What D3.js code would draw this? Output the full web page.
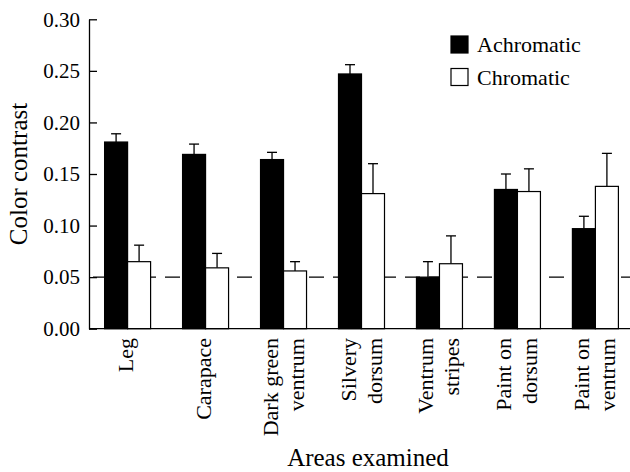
<!DOCTYPE html>
<html>
<head>
<meta charset="utf-8">
<script src="https://cdn.jsdelivr.net/npm/d3@7"></script>
<style>
  body { margin: 0; background: #fff; }
  svg text { font-family: "Liberation Serif", "Times New Roman", serif; fill: #000; }
</style>
</head>
<body>
<div id="chart"></div>
<script>
const categories = [["Leg"], ["Carapace"], ["Dark green", "ventrum"], ["Silvery", "dorsum"],
                    ["Ventrum", "stripes"], ["Paint on", "dorsum"], ["Paint on", "ventrum"]];
const seriesNames = ["Achromatic", "Chromatic"];
const achromatic = [0.181, 0.169, 0.164, 0.247, 0.050, 0.135, 0.097];
const achromaticErr = [0.008, 0.010, 0.007, 0.009, 0.015, 0.015, 0.012];
const chromatic = [0.065, 0.059, 0.056, 0.131, 0.063, 0.133, 0.138];
const chromaticErr = [0.016, 0.014, 0.009, 0.029, 0.027, 0.022, 0.032];
const yTicks = [0, 0.05, 0.10, 0.15, 0.20, 0.25, 0.30];
const threshold = 0.05;

const width = 630, height = 472;
const plotLeft = 89, plotTop = 19.3, plotBottom = 328.7;
const serif = '"Liberation Serif", "Times New Roman", serif';

const svg = d3.select('#chart').append('svg')
    .attr('width', width)
    .attr('height', height);

const keys = categories.map((c, i) => i);
const x = d3.scaleBand()
    .domain(keys)
    .range([plotLeft, 634])
    .paddingInner(0.41)
    .paddingOuter(0.2);

const xSub = d3.scaleBand()
    .domain(seriesNames)
    .range([0, x.bandwidth()]);

const y = d3.scaleLinear()
    .domain([0, 0.30])
    .range([plotBottom, plotTop]);

// threshold line
svg.append('line')
    .attr('x1', plotLeft).attr('x2', width)
    .attr('y1', y(threshold)).attr('y2', y(threshold))
    .attr('stroke', '#000')
    .attr('stroke-width', 1.3)
    .attr('stroke-dasharray', '15,9')
    .attr('stroke-dashoffset', 20);

const rows = [];
keys.forEach(i => {
    rows.push({ cat: i, s: 'Achromatic', v: achromatic[i], e: achromaticErr[i] });
    rows.push({ cat: i, s: 'Chromatic', v: chromatic[i], e: chromaticErr[i] });
});

// error bars (upward only)
const err = svg.append('g').attr('stroke', '#000').attr('stroke-width', 1.3);
rows.forEach(d => {
    const cx = x(d.cat) + xSub(d.s) + xSub.bandwidth() / 2;
    err.append('line')
        .attr('x1', cx).attr('x2', cx)
        .attr('y1', y(d.v)).attr('y2', y(d.v + d.e));
    err.append('line')
        .attr('x1', cx - 5).attr('x2', cx + 5)
        .attr('y1', y(d.v + d.e)).attr('y2', y(d.v + d.e));
});

svg.selectAll('.bar')
    .data(rows)
    .enter()
    .append('rect')
    .attr('class', 'bar')
    .attr('x', d => x(d.cat) + xSub(d.s))
    .attr('y', d => y(d.v))
    .attr('width', xSub.bandwidth())
    .attr('height', d => y(0) - y(d.v))
    .attr('fill', d => d.s === 'Achromatic' ? '#000' : '#fff')
    .attr('stroke', '#000')
    .attr('stroke-width', 1.2);

// y axis
const yAxis = d3.axisLeft(y)
    .tickValues(yTicks)
    .tickFormat(d3.format('.2f'))
    .tickSizeInner(-8)
    .tickSizeOuter(0)
    .tickPadding(9);

const gy = svg.append('g')
    .attr('transform', `translate(${plotLeft},0)`)
    .call(yAxis)
    .attr('font-family', serif);
gy.select('.domain').attr('stroke-width', 1.3);
gy.selectAll('.tick line').attr('stroke-width', 1.3);
gy.selectAll('.tick text')
    .style('font-family', serif)
    .style('font-size', '21px')
    .attr('fill', '#000');

// x axis line
svg.append('line')
    .attr('x1', plotLeft).attr('x2', width)
    .attr('y1', y(0)).attr('y2', y(0))
    .attr('stroke', '#000')
    .attr('stroke-width', 1.3);

// category labels (rotated)
keys.forEach(i => {
    const cx = x(i) + x.bandwidth() / 2;
    const lines = categories[i];
    const offs = lines.length === 1 ? [5] : [-6, 20];
    lines.forEach((t, j) => {
        const px = cx + offs[j];
        svg.append('text')
            .attr('transform', `translate(${px},338) rotate(-90)`)
            .attr('text-anchor', 'end')
            .style('font-family', serif)
            .style('font-size', '22px')
            .text(t);
    });
});

// axis titles
svg.append('text')
    .attr('transform', `translate(27,174) rotate(-90)`)
    .attr('text-anchor', 'middle')
    .style('font-family', serif)
    .style('font-size', '25px')
    .text('Color contrast');

svg.append('text')
    .attr('x', 368).attr('y', 466)
    .attr('text-anchor', 'middle')
    .style('font-family', serif)
    .style('font-size', '25px')
    .text('Areas examined');

// legend
const legend = svg.append('g').attr('transform', 'translate(451,36)');
seriesNames.forEach((s, i) => {
    const g = legend.append('g').attr('transform', `translate(0,${i * 32.5})`);
    g.append('rect')
        .attr('width', 17).attr('height', 17)
        .attr('fill', i === 0 ? '#000' : '#fff')
        .attr('stroke', '#000')
        .attr('stroke-width', 1.2);
    g.append('text')
        .attr('x', 26).attr('y', 16)
        .style('font-family', serif)
        .style('font-size', '22px')
        .text(s);
});
</script>
</body>
</html>
